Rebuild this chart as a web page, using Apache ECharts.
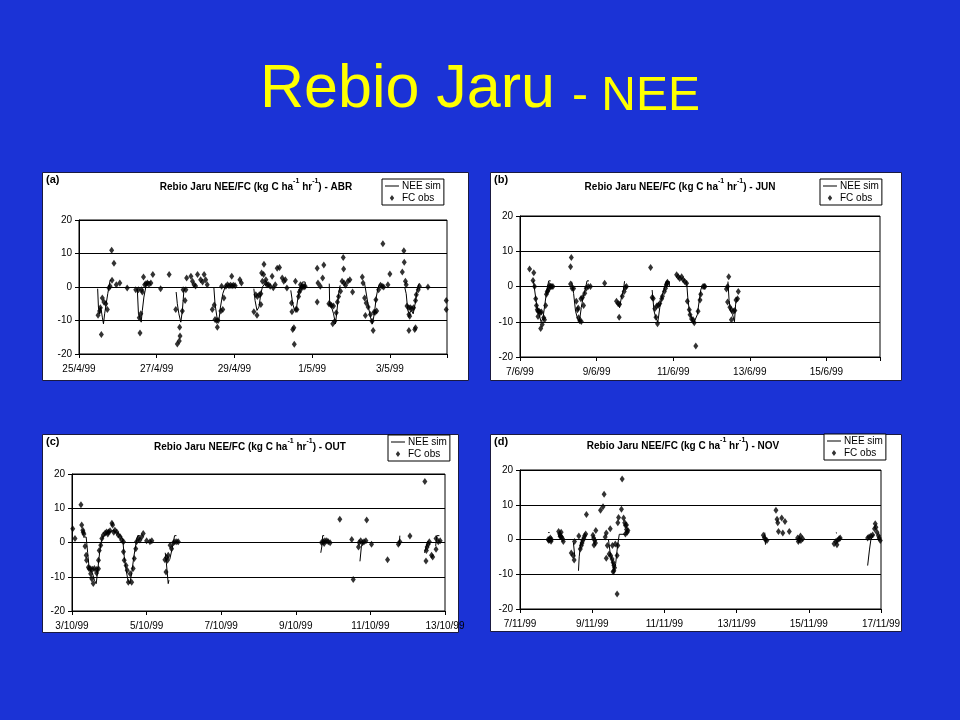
<!DOCTYPE html>
<html>
<head>
<meta charset="utf-8">
<script src="https://cdn.jsdelivr.net/npm/echarts@6/dist/echarts.min.js"></script>
<style>
html,body{margin:0;padding:0;background:#1b33d6;}
#c{width:960px;height:720px;}
</style>
</head>
<body>
<div id="c"></div>
<script>
// ---------- DATA (x = days since first tick, y = kg C ha-1 hr-1) ----------
const ticksABR = ['25/4/99','27/4/99','29/4/99','1/5/99','3/5/99'];
const ticksJUN = ['7/6/99','9/6/99','11/6/99','13/6/99','15/6/99'];
const ticksOUT = ['3/10/99','5/10/99','7/10/99','9/10/99','11/10/99','13/10/99'];
const ticksNOV = ['7/11/99','9/11/99','11/11/99','13/11/99','15/11/99','17/11/99'];
const yTicks = [-20,-10,0,10,20];

const obsABR = [
[0.49,-8.4],[0.53,-7.2],[0.55,-6.2],[0.575,-14.2],[0.6,-3.3],[0.64,-4.5],[0.69,-5],[0.73,-6.7],[0.77,-0.3],[0.8,0.2],[0.84,11],[0.85,2],[0.9,7.1],[0.96,0.7],[1.05,1.2],[1.24,-0.3],
[1.46,-0.8],[1.53,-0.8],[1.55,-9.2],[1.57,-13.7],[1.59,-8],[1.61,-0.8],[1.63,-1.5],[1.66,3],[1.69,0.7],[1.72,1],[1.76,1.2],[1.8,0.8],[1.85,1.2],[1.9,3.7],[2.1,-0.5],[2.32,3.7],
[2.49,-6.7],[2.53,-17],[2.58,-16.1],[2.6,-14.6],[2.59,-12],[2.66,-7.2],[2.68,-0.8],[2.73,-4],[2.75,-0.8],[2.77,2.7],[2.88,3.2],[2.92,1.7],[2.96,0.7],[3.05,3.7],[3.13,2.2],[3.22,3.7],[3.26,2.2],[3.3,0.7],[3.18,1.5],[3.0,0.3],
[3.43,-6.7],[3.48,-5.4],[3.5,-9.7],[3.54,-10],[3.58,-10],[3.56,-12],[3.65,-7.2],[3.67,0.2],[3.7,-6.7],[3.73,-3.3],[3.78,0.2],[3.82,0.7],[3.86,0.4],[3.9,0.5],[3.94,0.4],[3.98,0.5],[4.02,0.4],[3.93,3.2],[4.14,2.2],[4.18,1.2],
[4.5,-7.4],[4.55,-2.3],[4.58,-8.4],[4.59,-2.8],[4.64,-2.3],[4.68,-2],[4.68,-5.2],[4.7,4.2],[4.76,6.8],[4.72,1.7],[4.75,3.7],[4.8,1.2],[4.81,2.2],[4.84,0.7],[4.88,0.7],[4.97,3.2],[5.05,0.7],[5.1,5.6],[5.16,5.8],[5.23,2.7],[5.27,1.7],[5.31,2.2],[5.35,-0.3],[5.57,1.7],[5.7,0.7],[4.92,0.2],[5.0,-0.2],
[5.47,-4.8],[5.48,-7.4],[5.5,-12.7],[5.53,-12.2],[5.54,-17.1],[5.58,-6.7],[5.61,-6.7],[5.65,-2.8],[5.67,-1.5],[5.7,-0.8],[5.73,0],[5.76,0.2],[5.79,0],[5.82,0.2],[6.13,5.6],[6.13,-4.5],[6.15,1.2],[6.21,0.2],[6.27,2.7],[6.3,6.6],
[6.43,-5],[6.47,-5.2],[6.5,-5.5],[6.53,-11],[6.55,-5.7],[6.58,-10.2],[6.62,-7.7],[6.65,-4.5],[6.68,-2.8],[6.73,-1.3],[6.77,1.7],[6.8,8.8],[6.81,5.4],[6.82,1.2],[6.86,0.5],[6.92,1.7],[6.97,2.2],[7.04,-1.5],
[7.29,3],[7.31,1.2],[7.35,-3.3],[7.37,-8.5],[7.39,-4.8],[7.44,-6],[7.5,-8.2],[7.54,-10.2],[7.57,-13],[7.59,-7.5],[7.62,-7.5],[7.66,-7.2],[7.64,-3.8],[7.71,-0.8],[7.76,0.5],[7.8,0.2],[7.84,0],[7.82,12.9],[7.95,0.7],[8.0,3.9],
[8.32,4.5],[8.36,10.8],[8.37,7.4],[8.4,1.7],[8.42,0.7],[8.44,-5.7],[8.49,-6.2],[8.53,-6.2],[8.57,-6.5],[8.61,-6.2],[8.49,-8.2],[8.51,-8.7],[8.49,-13],[8.64,-12.7],[8.66,-12.2],[8.66,-4],[8.68,-2.3],[8.73,-0.8],[8.76,0.2],[8.98,0],[9.45,-4],[9.45,-6.7]
];
const simABR = [
[0.48,-0.5],[0.5,-6],[0.53,-8],[0.56,-6],[0.6,-9],[0.63,-11],[0.66,-8],[0.7,-5],[0.74,-2],[0.77,0],[0.8,2],[0.83,2],null,
[1.5,-0.5],[1.53,-8],[1.56,-9],[1.6,-10.5],[1.63,-7],[1.67,-3],[1.72,0],[1.75,1.5],[1.85,1.5],null,
[2.5,-1.5],[2.53,-5],[2.57,-8],[2.62,-10.5],[2.66,-7],[2.7,-1],[2.75,0],null,
[3.47,0],[3.5,-5],[3.55,-9],[3.6,-10],[3.64,-6],[3.7,-2],[3.76,0],[3.8,0.5],null,
[4.5,-0.5],[4.53,-4],[4.58,-7],[4.63,-6],[4.68,-2],[4.72,0],[4.78,1],null,
[5.45,-1],[5.5,-5],[5.55,-7],[5.6,-6],[5.65,-2],[5.7,0],[5.75,1.5],[5.82,1.5],[5.82,0],null,
[6.44,1],[6.45,-5],[6.5,-6],[6.55,-8],[6.6,-11],[6.64,-7],[6.68,-2],[6.72,0.5],null,
[7.35,1],[7.4,0.5],[7.45,-6],[7.5,-9],[7.55,-11],[7.6,-8],[7.65,-3],[7.7,0],[7.75,1],null,
[8.38,0],[8.42,-2],[8.46,-7],[8.5,-8],[8.55,-7],[8.6,-8],[8.65,-5],[8.7,-1],[8.75,1]
];

const obsJUN = [
[0.25,5],[0.36,3.9],[0.34,1.7],[0.38,0],[0.41,-3.5],[0.43,-5.4],[0.45,-6.6],[0.47,-7],[0.5,-7],[0.53,-7.4],[0.56,-7.2],[0.47,-8.5],[0.54,-11.9],[0.58,-10.8],[0.62,-8.9],[0.64,-9.4],[0.67,-5.4],[0.69,-2.2],[0.71,-1.5],[0.73,-1.2],[0.76,-0.5],[0.77,0.3],[0.8,0],[0.83,0],[0.86,0],
[1.32,5.6],[1.34,8.2],[1.32,0.7],[1.36,-0.5],[1.4,-0.6],[1.47,-4.2],[1.5,-6.6],[1.52,-6.1],[1.53,-8.9],[1.56,-9.7],[1.6,-9.9],[1.59,-3.5],[1.63,-3.1],[1.66,-5.4],[1.69,-1.9],[1.73,-0.5],[1.78,0],[1.84,0],
[2.21,0.9],[2.52,-4.2],[2.56,-4.8],[2.6,-5],[2.59,-8.7],[2.67,-2.8],[2.72,-1.4],[2.75,-0.3],[2.78,0],
[3.41,5.4],[3.45,-3.1],[3.48,-3.4],[3.52,-6.3],[3.55,-8.7],[3.59,-10.6],[3.57,-5.5],[3.61,-5.3],[3.65,-4.8],[3.7,-3.5],[3.72,-2.8],[3.77,-1.4],[3.8,-0.5],[3.82,0.5],[3.84,0.9],[3.85,1.2],
[4.09,3.3],[4.13,2.8],[4.17,2.3],[4.22,2.8],[4.26,1.9],[4.3,1.4],[4.35,0.9],[4.37,-4.2],[4.42,-6.6],[4.44,-8],[4.48,-9.2],[4.52,-9.4],[4.55,-10.3],[4.59,-16.9],[4.65,-7],[4.7,-3.8],[4.72,-2.2],[4.78,0],[4.81,0],[4.83,0],
[5.39,-0.7],[5.42,0],[5.45,2.8],[5.42,-4.4],[5.48,-5.9],[5.52,-6.6],[5.57,-7],[5.61,-6.8],[5.52,-9.4],[5.64,-3.8],[5.68,-3.5],[5.7,-1.4]
];
const simJUN = [
[0.35,1.6],[0.4,1.6],[0.42,-4],[0.46,-7],[0.5,-8],[0.55,-10],[0.6,-9],[0.65,-5],[0.7,-1],[0.75,1.6],[0.8,1.6],null,
[1.35,1.4],[1.4,-2],[1.45,-7],[1.5,-9],[1.55,-10],[1.6,-6],[1.65,-3],[1.7,-1],[1.75,1.6],[1.8,1.6],null,
[2.55,-5],[2.6,-6],[2.65,-3],[2.7,-1],[2.73,1.5],null,
[3.45,-1],[3.5,-7],[3.55,-9],[3.6,-10],[3.65,-6],[3.7,-3],[3.78,0],[3.82,1.4],[3.9,1.4],[3.9,0],null,
[4.35,1.4],[4.38,-3],[4.42,-7],[4.48,-9],[4.53,-10.5],[4.58,-11],[4.63,-8],[4.68,-4],[4.72,-1],[4.75,0],null,
[5.43,1.4],[5.46,-4],[5.5,-7],[5.55,-8],[5.6,-10],[5.63,-5],[5.67,-3]
];

const obsOUT = [
[0.02,4],[0.08,1.2],[0.24,11],[0.26,5.1],[0.29,3.6],[0.3,3],[0.32,2.5],[0.35,-1.1],[0.38,-3.7],[0.39,-5.2],[0.44,-7.2],[0.46,-7.7],[0.5,-7.7],[0.55,-7.8],[0.6,-7.6],[0.66,-7.9],[0.71,-7.7],[0.5,-9.1],[0.53,-10.6],[0.57,-12],[0.66,-8.9],[0.71,-5.2],[0.73,-2.3],[0.77,-0.8],
[0.8,1.2],[0.84,2.2],[0.89,2.8],[0.93,3.1],[0.98,3.1],[1.02,3.4],[1.07,5.6],[1.09,5.1],[1.15,3.6],[1.2,3.1],[1.24,2.2],[1.29,1.7],[1.33,0.7],[1.38,0.2],[0.96,2.5],[1.12,3],
[1.38,-2.7],[1.4,-5.2],[1.45,-6.7],[1.48,-8.1],[1.51,-11.6],[1.56,-9.1],[1.6,-11.6],[1.64,-7.6],[1.67,-4.7],[1.71,-1.8],[1.73,0.2],[1.78,1.2],[1.82,0.7],[1.87,1.7],[1.91,2.6],[2.0,0.5],[2.09,0.2],[2.14,0.5],
[2.49,-5],[2.54,-4.4],[2.56,-5.2],[2.52,-8.6],[2.58,-3.7],[2.63,-0.8],[2.67,-1.8],[2.72,-0.1],[2.76,0.2],[2.81,0.2],[2.85,0.2],
[6.69,0],[6.74,0.2],[6.78,0.5],[6.83,0.5],[6.87,0.2],[6.92,-0.1],[6.76,-0.3],
[7.18,6.8],[7.5,0.9],[7.54,-10.8],[7.7,0],[7.74,0.5],[7.79,-0.1],[7.83,0.2],[7.88,0.5],[7.9,6.6],[7.68,-1.3],[8.03,-0.5],
[8.46,-5],[8.75,-0.5],[8.79,0.2],[9.06,1.9],
[9.46,17.8],[9.49,-5.4],[9.5,-2.3],[9.52,-1.3],[9.55,-0.5],[9.58,0.2],[9.64,-3.7],[9.67,-4.2],[9.76,-2],[9.76,1.2],[9.82,0.2],[9.87,0.5]
];
const simOUT = [
[0.3,1.6],[0.38,1.6],[0.42,-3],[0.46,-7.5],[0.5,-8],[0.55,-9],[0.6,-11],[0.65,-12],[0.7,-7],[0.74,-3],[0.78,0],[0.82,1.5],[0.9,2.5],[1.0,3],[1.1,3.5],[1.2,3],[1.3,2],[1.36,1],[1.4,-4],[1.45,-8],[1.5,-11],[1.55,-12],[1.6,-9],[1.66,-4],[1.72,0],[1.76,2],[1.82,2],null,
[2.5,-3],[2.53,-6],[2.58,-12],[2.6,-11],null,
[2.62,-5],[2.68,-2],[2.75,2],[2.8,2],null,
[6.67,-3],[6.7,-1],[6.72,2],[6.76,2],null,
[7.72,-5.5],[7.76,-1],[7.8,0],null,
[8.77,-1],[8.79,2],null,
[9.45,-3],[9.5,-1],[9.55,0.5],null,
[9.75,-1],[9.78,2],[9.85,2]
];

const obsNOV = [
[0.78,0],[0.8,-0.3],[0.82,0],[0.84,0.4],[0.86,-0.5],[0.87,0],
[1.07,2.3],[1.1,1.6],[1.12,1.1],[1.15,0.7],[1.18,0.2],[1.2,-0.6],[1.14,2.1],[1.11,0.9],
[1.42,-3.9],[1.47,-4.6],[1.5,-5.9],[1.51,-0.6],[1.63,1],[1.67,-2.7],[1.7,-1.7],[1.72,-1],[1.74,-0.3],[1.77,0.4],[1.79,1.1],[1.82,1.6],[1.84,7.2],
[2.02,1.2],[2.04,0.4],[2.07,-0.3],[2.09,-1],[2.05,-1.6],[2.1,2.6],
[2.23,8.4],[2.3,9.4],[2.33,13],[2.36,0.7],[2.39,1.9],[2.42,-1.7],[2.47,-4.2],[2.39,-5.4],[2.5,3.1],[2.51,-4.6],[2.55,-5.6],[2.58,-6.6],[2.6,-7.4],[2.62,-8.1],[2.6,-9],[2.58,-9.3],[2.56,-1.7],[2.64,-1.3],[2.69,-15.7],[2.69,-4.6],[2.71,-1.7],[2.71,4.8],[2.73,6.3],[2.81,8.7],[2.83,17.4],[2.87,6.2],[2.9,4.8],[2.92,4.1],[2.95,4.2],[2.95,2.9],[2.97,2.1],[2.92,1.6],[2.99,2.6],
[6.74,1.2],[6.77,0.5],[6.8,-0.1],[6.84,-0.3],
[7.09,8.4],[7.12,5.8],[7.14,4.8],[7.16,2.3],[7.25,6.2],[7.28,1.9],[7.34,5.2],[7.46,2.3],
[7.69,0.4],[7.73,0],[7.78,-0.3],[7.83,0.2],[7.71,-0.6],[7.77,1],
[8.7,-1.2],[8.75,-0.6],[8.79,-0.3],[8.84,0.2],[8.87,0.4],[8.78,-1.5],
[9.63,0.4],[9.67,0.7],[9.72,1],[9.77,1.3],[9.82,3.1],[9.84,4.5],[9.86,3.5],[9.89,2.1],[9.93,1.1],[9.95,0.4],[9.98,-0.3]
];
const simNOV = [
[0.78,2],[0.82,2],null,
[1.48,-1],[1.52,-5],null,
[1.62,-9],[1.64,-5],[1.68,-1],[1.75,0.5],null,
[2.45,0],[2.5,-4],[2.55,-6],[2.6,-9],[2.65,-7],[2.7,-2],[2.75,1.5],[2.95,1.5],null,
[6.78,2],[6.8,-1.5],null,
[7.72,-1],[7.75,1],null,
[8.75,2],[8.78,1.8],null,
[9.63,-7.5],[9.68,-3],[9.72,0],[9.8,1.5]
];

// ---------- CHART ----------
const FONT = 'Liberation Sans';
const panels = [
  {tag:'(a)', month:'ABR', ticks:ticksABR, max:9.47, obs:obsABR, sim:simABR,
   box:[42,172,426,208], grid:{left:79, top:220, width:368, height:134}, leg:{left:382, top:179}, title:{x:256, y:178}},
  {tag:'(b)', month:'JUN', ticks:ticksJUN, max:9.4, obs:obsJUN, sim:simJUN,
   box:[490,172,411,208], grid:{left:520, top:216, width:360, height:141}, leg:{left:820, top:179}, title:{x:680, y:178}},
  {tag:'(c)', month:'OUT', ticks:ticksOUT, max:10, obs:obsOUT, sim:simOUT,
   box:[42,434,416,198], grid:{left:72, top:474, width:373, height:137}, leg:{left:388, top:435}, title:{x:250, y:438}},
  {tag:'(d)', month:'NOV', ticks:ticksNOV, max:10, obs:obsNOV, sim:simNOV,
   box:[490,434,411,197], grid:{left:520, top:470, width:361, height:139}, leg:{left:824, top:434}, title:{x:683, y:437}}
];

function toLine(arr){
  const out=[];
  arr.forEach((p,i)=>{ if(p===null){ out.push([arr[i-1][0],'-']); } else out.push(p); });
  return out;
}

const titleRich = {
  t:{fontFamily:FONT, fontSize:10, fontWeight:'bold', color:'#000', lineHeight:14, verticalAlign:'bottom'},
  s:{fontFamily:FONT, fontSize:7, fontWeight:'bold', color:'#000', lineHeight:8, verticalAlign:'top'}
};

// legend icons: a 14x7 box holding a thin line / a small diamond
const ICON_LINE = 'path://M0,2.9H14V4.1H0Z M0,0L0.01,0L0.01,0.01Z M14,7L14.01,7L14.01,7.01Z';
const ICON_DIAM = 'path://M7,0.5L9.2,3.5L7,6.5L4.8,3.5Z M0,0L0.01,0L0.01,0.01Z M14,7L14.01,7L14.01,7.01Z';

const option = {
  backgroundColor:'#1b33d6',
  animation:false,
  title:[{
    text:'{a|Rebio Jaru }{b|- NEE}', left:'center', top:46,
    textStyle:{fontWeight:'normal', rich:{
      a:{fontFamily:FONT, fontSize:61, fontWeight:'normal', color:'#ffff00', verticalAlign:'bottom', lineHeight:70},
      b:{fontFamily:FONT, fontSize:48, fontWeight:'normal', color:'#ffff00', verticalAlign:'bottom', lineHeight:70}
    }}
  }].concat(panels.map(p=>({
    text:'{t|Rebio Jaru NEE/FC (kg C ha}{s|-1}{t| hr}{s|-1}{t|) - '+p.month+'}',
    left:p.title.x, top:p.title.y, textAlign:'center', padding:0,
    textStyle:{rich:titleRich}
  }))),
  graphic: panels.map(p=>({
    type:'rect', z:-10, silent:true,
    shape:{x:p.box[0]+0.5, y:p.box[1]+0.5, width:p.box[2], height:p.box[3]},
    style:{fill:'#ffffff', stroke:'#1a1a40', lineWidth:1}
  })).concat(panels.map(p=>({
    type:'text', z:10, silent:true, left:p.box[0]+4, top:p.box[1]+2,
    style:{text:p.tag, font:'bold 11px '+FONT, fill:'#000'}
  }))),
  legend: panels.map((p,i)=>({
    left:p.leg.left, top:p.leg.top, orient:'vertical',
    data:[{name:'NEE sim', icon:ICON_LINE},{name:'FC obs', icon:ICON_DIAM}], selectedMode:false,
    backgroundColor:'#fff', borderColor:'#000', borderWidth:1, borderRadius:0,
    padding:[2,3,2,3], itemGap:2, itemWidth:14, itemHeight:7,
    itemStyle:{color:'#000', borderWidth:0}, lineStyle:{width:0},
    textStyle:{fontFamily:FONT, fontSize:10, color:'#000', padding:[0,0,0,-2]}
  })),
  grid: panels.map(p=>Object.assign({show:true, borderColor:'#000', borderWidth:1, backgroundColor:'transparent', containLabel:false}, p.grid)),
  xAxis: panels.map((p,i)=>({
    type:'value', gridIndex:i, min:0, max:p.max, interval:2,
    axisLine:{show:true, onZero:false, lineStyle:{color:'#000', width:1}},
    axisTick:{show:true, inside:false, length:4, lineStyle:{color:'#000'}},
    splitLine:{show:false},
    axisLabel:{fontFamily:FONT, fontSize:10, color:'#000', margin:10, showMaxLabel:true,
      formatter:v=>{const k=Math.round(v/2); return (Math.abs(v-2*k)<1e-6 && p.ticks[k])?p.ticks[k]:'';}}
  })),
  yAxis: panels.map((p,i)=>({
    type:'value', gridIndex:i, min:yTicks[0], max:yTicks[yTicks.length-1], interval:10,
    axisLine:{show:true, lineStyle:{color:'#000', width:1}},
    axisTick:{show:true, inside:false, length:4, lineStyle:{color:'#000'}},
    splitLine:{show:true, lineStyle:{color:'#000', width:1}},
    axisLabel:{fontFamily:FONT, fontSize:10, color:'#000', margin:7}
  })),
  series: panels.flatMap((p,i)=>[
    {name:'NEE sim', type:'line', xAxisIndex:i, yAxisIndex:i, data:toLine(p.sim),
     symbol:'none', connectNulls:false, lineStyle:{color:'#000', width:1}, itemStyle:{color:'#000'}, z:3},
    {name:'FC obs', type:'scatter', xAxisIndex:i, yAxisIndex:i, data:p.obs,
     symbol:'diamond', symbolSize:[5,7], itemStyle:{color:'#000'}, z:4}
  ])
};

const chart = echarts.init(document.getElementById('c'), null, {renderer:'canvas'});
chart.setOption(option);
</script>
</body>
</html>
